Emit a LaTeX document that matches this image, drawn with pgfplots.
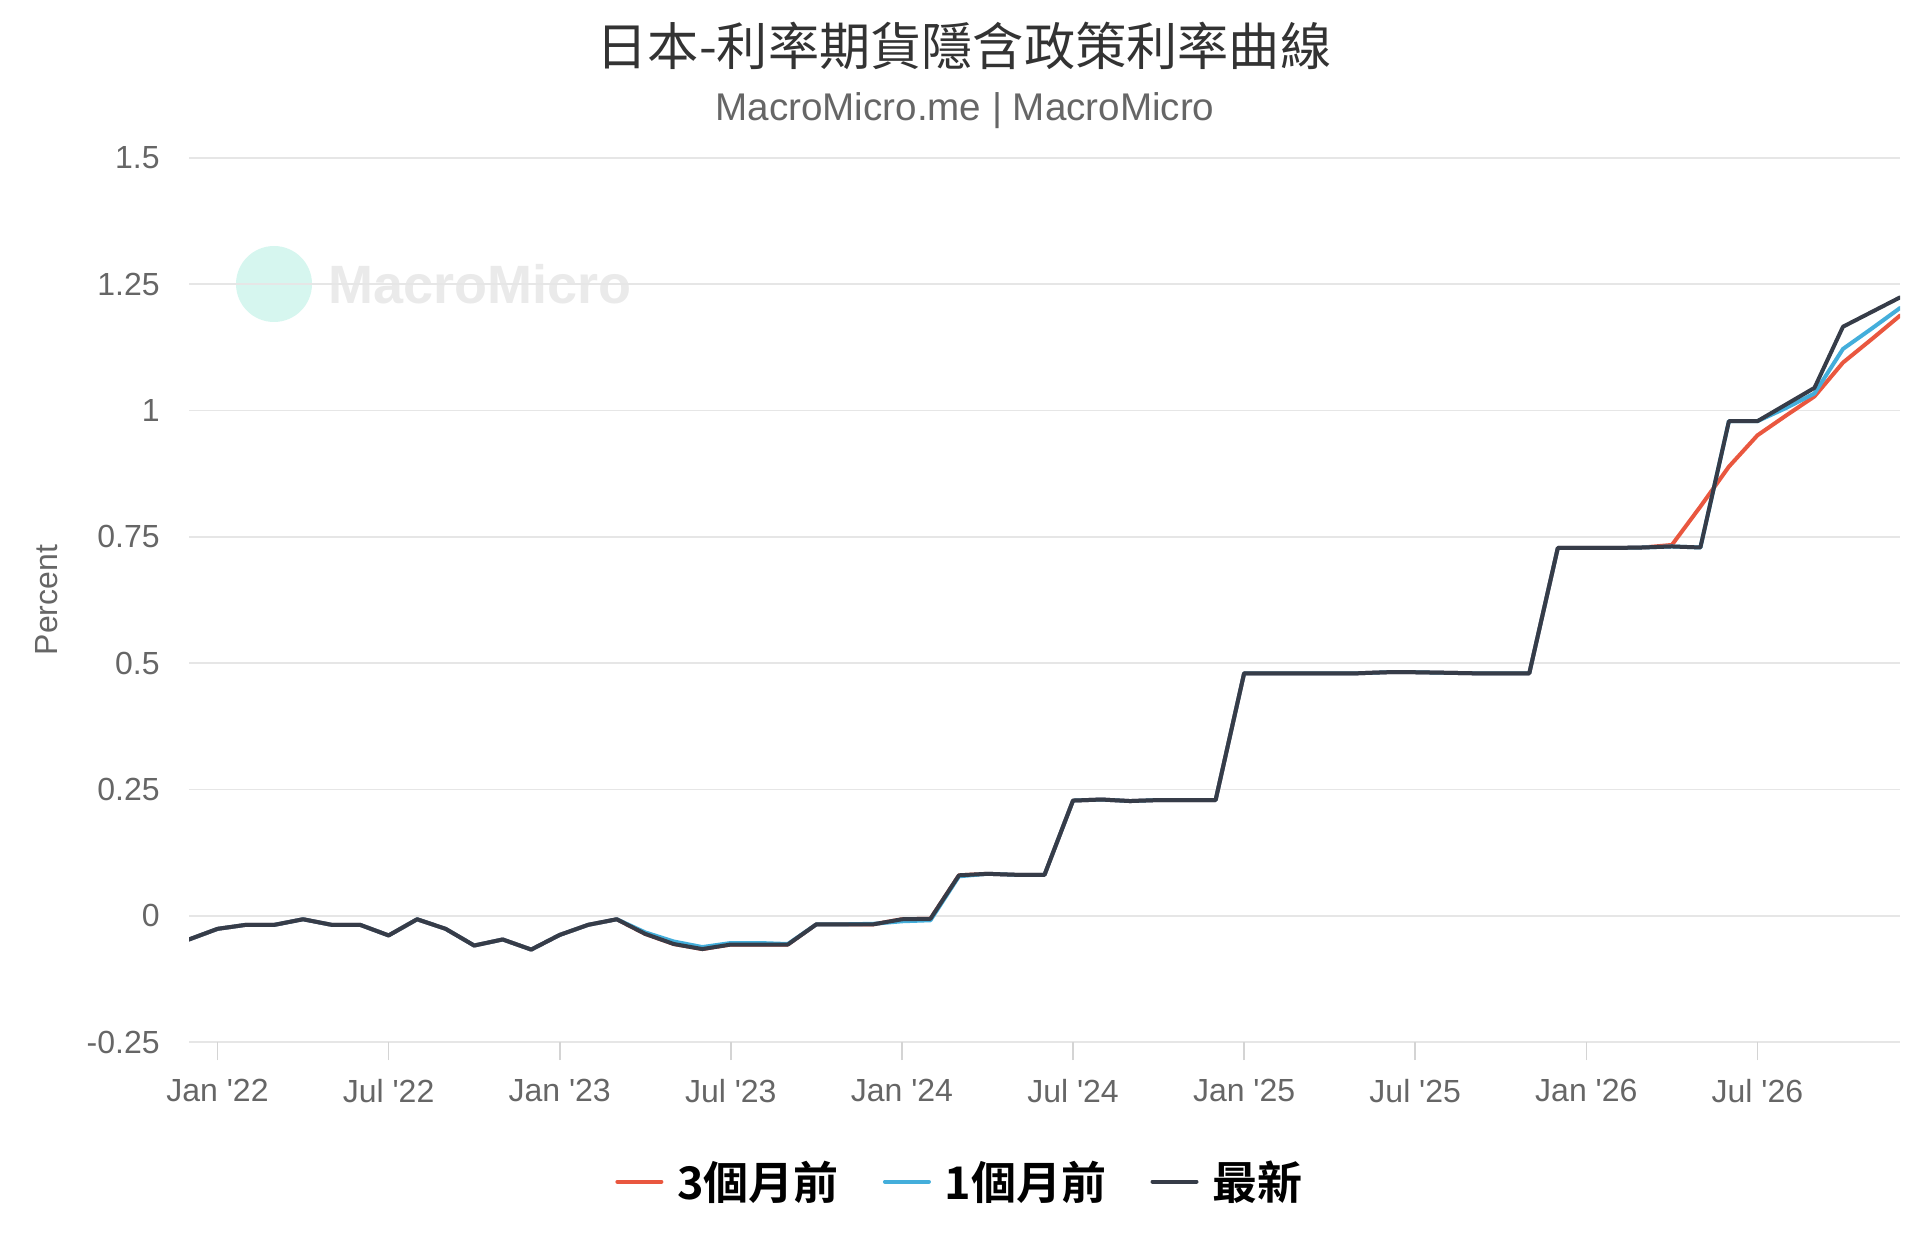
\documentclass[border=0pt]{standalone}
\usepackage{pgfplots}
\usepackage{pgfplotstable}
\pgfplotsset{compat=1.18}
\usepackage{fontspec}
\setmainfont{Liberation Sans}
\newfontfamily\cjk[BoldFont={Noto Sans CJK TC Bold}]{Noto Sans CJK TC}
\definecolor{cred}{RGB}{233,87,63}
\definecolor{cblue}{RGB}{68,174,219}
\definecolor{cdark}{RGB}{54,60,72}
\definecolor{gridgray}{RGB}{230,230,230}
\definecolor{tickmk}{RGB}{212,212,212}
\definecolor{tickgray}{RGB}{102,102,102}
\definecolor{titlegray}{RGB}{51,51,51}
\definecolor{mint}{RGB}{214,246,239}
\definecolor{wmgray}{RGB}{234,234,234}
\newcommand{\q}{\textquotesingle}

\pgfplotstableread{
x black blue red
-1 -0.047 -0.047 -0.047
0 -0.026 -0.026 -0.026
1 -0.018 -0.018 -0.018
2 -0.018 -0.018 -0.018
3 -0.007 -0.007 -0.007
4 -0.018 -0.018 -0.018
5 -0.018 -0.018 -0.018
6 -0.039 -0.039 -0.039
7 -0.007 -0.007 -0.007
8 -0.026 -0.026 -0.026
9 -0.059 -0.059 -0.059
10 -0.047 -0.047 -0.047
11 -0.067 -0.067 -0.067
12 -0.038 -0.038 -0.038
13 -0.018 -0.018 -0.018
14 -0.007 -0.007 -0.007
15 -0.036 -0.033 -0.036
16 -0.056 -0.051 -0.056
17 -0.066 -0.062 -0.066
18 -0.057 -0.054 -0.057
19 -0.057 -0.054 -0.057
20 -0.057 -0.056 -0.057
21 -0.017 -0.017 -0.017
22 -0.017 -0.017 -0.017
23 -0.017 -0.016 -0.017
24 -0.007 -0.011 -0.007
25 -0.006 -0.009 -0.006
26 0.080 0.078 0.080
27 0.083 0.083 0.083
28 0.081 0.081 0.081
29 0.081 0.081 0.081
30 0.228 0.228 0.228
31 0.230 0.230 0.230
32 0.227 0.227 0.227
33 0.229 0.229 0.229
34 0.229 0.229 0.229
35 0.229 0.229 0.229
36 0.480 0.480 0.480
37 0.480 0.480 0.480
38 0.480 0.480 0.480
39 0.480 0.480 0.480
40 0.480 0.480 0.480
41 0.482 0.482 0.482
42 0.482 0.482 0.482
43 0.481 0.481 0.481
44 0.480 0.480 0.480
45 0.480 0.480 0.480
46 0.480 0.480 0.480
47 0.728 0.728 0.728
48 0.728 0.728 0.728
49 0.728 0.728 0.728
50 0.729 0.729 0.729
51 0.731 0.731 0.734
52 0.729 0.729 0.810
53 0.979 0.979 0.889
54 0.979 0.979 0.951
55 1.012 1.005 0.990
56 1.045 1.034 1.028
57 1.166 1.122 1.095
58 1.195 1.162 1.141
59 1.224 1.203 1.188
}\datatable

\begin{document}
\begin{tikzpicture}
\path[use as bounding box] (0pt,0pt) rectangle (960pt,625pt);
% watermark
\fill[mint] (137pt,483pt) circle (19pt);
\node[anchor=west, inner sep=0pt, text=wmgray, font=\fontsize{27}{28}\selectfont\bfseries] at (164pt,483pt) {MacroMicro};
\begin{axis}[
  scale only axis,
  width=855.5pt, height=442pt,
  at={(94.5pt,104pt)}, anchor=south west,
  xmin=-1, xmax=59,
  ymin=-0.25, ymax=1.5,
  xtick={0,6,12,18,24,30,36,42,48,54},
  xticklabels={Jan \q22,Jul \q22,Jan \q23,Jul \q23,Jan \q24,Jul \q24,Jan \q25,Jul \q25,Jan \q26,Jul \q26},
  ytick={-0.25,0,0.25,0.5,0.75,1,1.25,1.5},
  yticklabels={-0.25,0,0.25,0.5,0.75,1,1.25,1.5},
  xtick pos=bottom, ytick pos=left,
  tick align=outside,
  major tick length=9pt,
  xtick style={draw=tickmk, line width=0.8pt},
  ytick style={draw=none},
  ymajorgrids,
  grid style={draw=gridgray, line width=0.8pt},
  axis line style={draw=none},
  tick label style={font=\fontsize{16}{18}\selectfont, text=tickgray},
  /pgf/number format/assume math mode=true,
  yticklabel style={anchor=east, inner sep=0pt, xshift=-5.5pt},
  xticklabel style={anchor=north, inner sep=0pt, yshift=-9.6pt},
  ylabel={Percent},
  every axis y label/.style={at={(axis description cs:-0.0833,0.5)}, anchor=center, rotate=90, font=\fontsize{16}{18}\selectfont, text=tickgray},
  legend columns=3,
  legend style={at={(axis description cs:0.45,-0.158)}, anchor=center, draw=none, fill=none,
    font=\cjk\bfseries\fontsize{22.5}{24}\selectfont,
    nodes={inner sep=0pt},
    /tikz/every odd column/.append style={column sep=7pt},
    /tikz/every even column/.append style={column sep=22pt}},
  legend image code/.code={\draw[#1, line width=2pt] (0pt,0pt) -- (22pt,0pt);},
  every axis plot/.append style={line width=2pt, line join=round, line cap=round},
]
\addplot[cred] table[x=x, y=red] {\datatable};
\addlegendentry{3個月前}
\addplot[cblue] table[x=x, y=blue] {\datatable};
\addlegendentry{1個月前}
\addplot[cdark] table[x=x, y=black] {\datatable};
\addlegendentry{最新}
\end{axis}
\node[font=\cjk\fontsize{25.6}{27}\selectfont, text=titlegray] at (482pt,602pt) {日本-利率期貨隱含政策利率曲線};
\node[anchor=base, font=\fontsize{19.3}{20}\selectfont, text=tickgray] at (482.5pt,564.5pt) {MacroMicro.me | MacroMicro};
\end{tikzpicture}
\end{document}
